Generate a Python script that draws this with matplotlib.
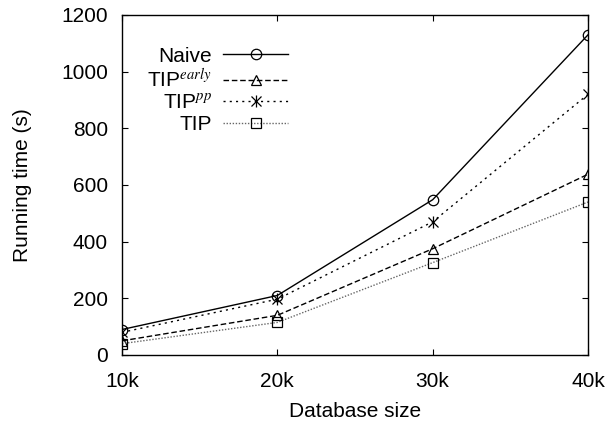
import matplotlib
matplotlib.use("Agg")
import matplotlib.pyplot as plt
from matplotlib.legend_handler import HandlerTuple

sizes = ["10k", "20k", "30k", "40k"]
naive = [90, 210, 548, 1130]
tip_early = [50, 140, 375, 638]
tip_pp = [80, 197, 470, 920]
tip = [40, 115, 326, 540]

plt.rcParams["font.family"] = ["Liberation Sans", "DejaVu Sans"]
plt.rcParams["mathtext.fontset"] = "stix"

W, H = 607, 424
fig = plt.figure(figsize=(W / 100, H / 100), dpi=100)
ax = fig.add_axes([122 / W, 1 - 355 / H, (588 - 122) / W, (355 - 15) / H])

x = list(range(len(sizes)))
mk = dict(ms=7.5, mew=0.9)
h_naive, = ax.plot(x, naive, color="black", lw=1.0, ls="-", marker="o",
                   mfc="none", **mk)
h_early, = ax.plot(x, tip_early, color="black", lw=1.0, ls=(0, (4, 2)),
                   marker="^", mfc="none", **mk)
h_pp, = ax.plot(x, tip_pp, color="black", lw=1.0, ls=(0, (1.5, 3)),
                marker="x", **mk)
h_pp_bar, = ax.plot(x, tip_pp, color="black", lw=0, marker="|", ms=9, mew=0.9)
h_tip, = ax.plot(x, tip, color="#666666", lw=1.0, ls=(0, (1, 1.2)),
                 marker="s", mfc="none", mec="black", **mk)

ax.set_xlim(0, 3)
ax.set_ylim(0, 1200)
ax.set_xticks(x)
ax.set_xticklabels(sizes)
ax.set_yticks(range(0, 1201, 200))
ax.tick_params(direction="in", top=True, right=True, length=4.5, labelsize=15)
ax.tick_params(axis="y", pad=10)
ax.tick_params(axis="x", pad=12)
for s in ax.spines.values():
    s.set_linewidth(1.0)

ax.set_xlabel("Database size", fontsize=15, labelpad=8)
ax.set_ylabel("Running time (s)", fontsize=15, labelpad=21)

leg = ax.legend([h_naive, h_early, (h_pp, h_pp_bar), h_tip],
                ["Naive", r"TIP$^{early}$", r"TIP$^{pp}$", "TIP"],
                handler_map={tuple: HandlerTuple(ndivide=1, pad=0)},
                loc="upper right", bbox_to_anchor=(288 / W, 1 - 46.5 / H),
                bbox_transform=fig.transFigure, frameon=False,
                markerfirst=False, fontsize=15, handlelength=3.1,
                handletextpad=0.55, labelspacing=0.12, borderaxespad=0,
                borderpad=0)
for t in leg.get_texts():
    t.set_ha("right")
leg._legend_box.align = "right"

fig.savefig("out.png", dpi=100)
